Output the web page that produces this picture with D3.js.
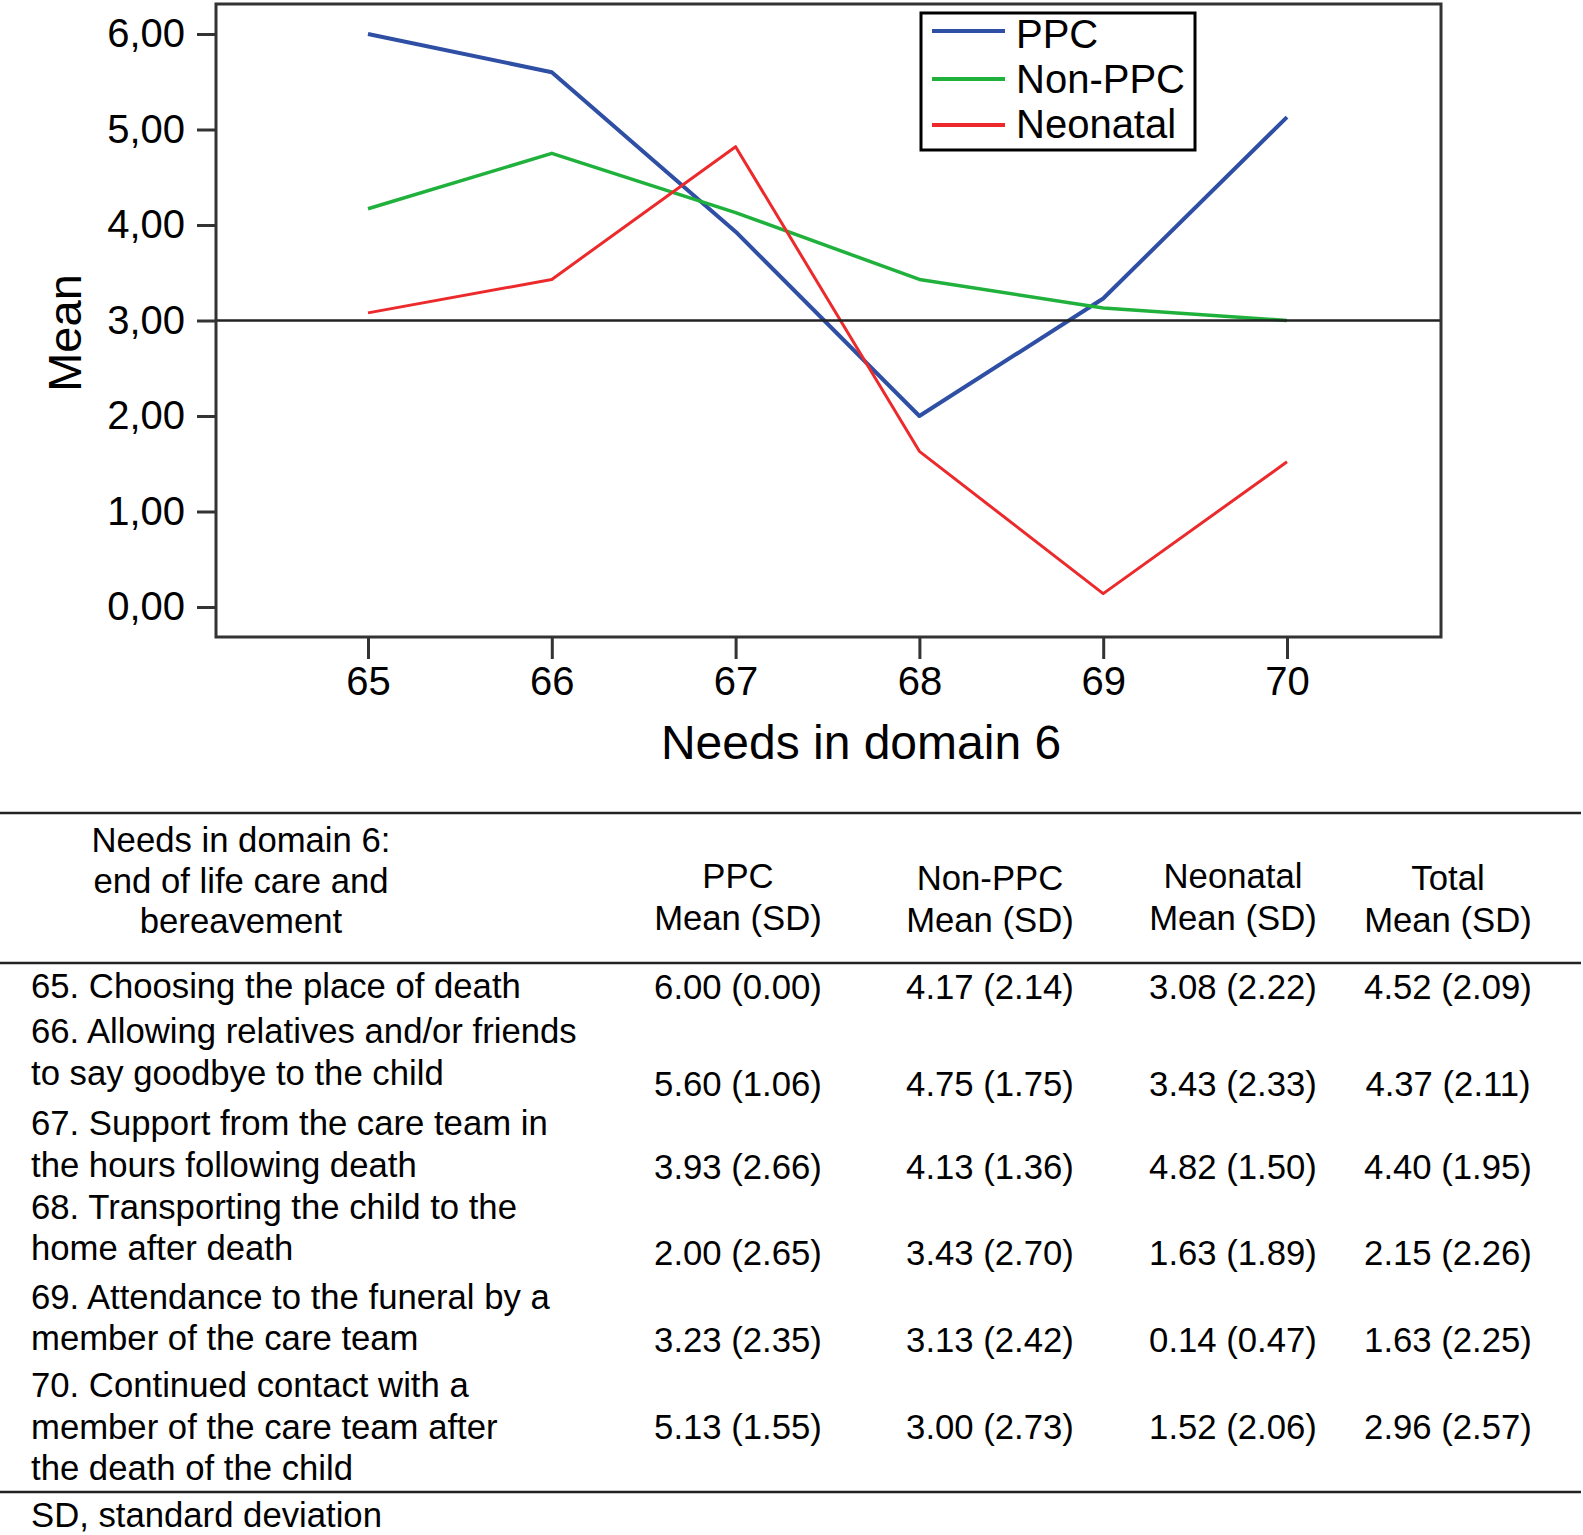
<!DOCTYPE html>
<html>
	<head>
		<title>Needs in domain 6</title>
		<meta charset="utf-8" />
		<style type="text/css">
			body {
				margin: 0;
				background: #fff;
			}
			svg text {
				font-family: "Liberation Sans", Arial, Helvetica, sans-serif;
				fill: #000;
			}
		</style>
	</head>
	<body>
		<svg width="1583" height="1535"></svg>

		<script type="text/javascript" src="https://cdn.jsdelivr.net/npm/d3@7/dist/d3.min.js"></script>
		<script type="text/javascript">
			/**
			 * data
			 * */
			var needs = [65, 66, 67, 68, 69, 70];
			var yTicks = [0, 1, 2, 3, 4, 5, 6];
			var groups = ["PPC", "Non-PPC", "Neonatal"];

			var ppcMean = [6.00, 5.60, 3.93, 2.00, 3.23, 5.13];
			var ppcSD = [0.00, 1.06, 2.66, 2.65, 2.35, 1.55];
			var nonPpcMean = [4.17, 4.75, 4.13, 3.43, 3.13, 3.00];
			var nonPpcSD = [2.14, 1.75, 1.36, 2.70, 2.42, 2.73];
			var neonatalMean = [3.08, 3.43, 4.82, 1.63, 0.14, 1.52];
			var neonatalSD = [2.22, 2.33, 1.50, 1.89, 0.47, 2.06];
			var totalMean = [4.52, 4.37, 4.40, 2.15, 1.63, 2.96];
			var totalSD = [2.09, 2.11, 1.95, 2.26, 2.25, 2.57];

			var referenceValue = 3;

			var needLabels = [
				["65. Choosing the place of death"],
				["66. Allowing relatives and/or friends", "to say goodbye to the child"],
				["67. Support from the care team in", "the hours following death"],
				["68. Transporting the child to the", "home after death"],
				["69. Attendance to the funeral by a", "member of the care team"],
				["70. Continued contact with a", "member of the care team after", "the death of the child"]
			];

			var headers = [
				["Needs in domain 6:", "end of life care and", "bereavement"],
				["PPC", "Mean (SD)"],
				["Non-PPC", "Mean (SD)"],
				["Neonatal", "Mean (SD)"],
				["Total", "Mean (SD)"]
			];

			/**
			 * layout
			 * */
			var frame = { left: 216, top: 4, right: 1441, bottom: 637 };
			var colors = ["#2f4fa5", "#1fb13c", "#ec2a2c"];
			var widths = [4, 3.5, 3];
			var tableFont = 34.7;
			var colX = [241, 738, 990, 1233, 1448];
			var headerBase = [[852, 893, 933], [888, 930], [890, 932], [888, 930], [890, 932]];
			var labelBase = [[998], [1043, 1085], [1135, 1177], [1219, 1260], [1309, 1350], [1397, 1439, 1480]];
			var valueBase = [999, 1096, 1179, 1265, 1352, 1439];
			var ruleY = [813, 963, 1492];

			var svg = d3.select("svg");

			var x = d3.scaleLinear().domain([65, 70]).range([368, 1287]);
			var y = d3.scaleLinear().domain([0, 6]).range([607, 34]);

			var comma = function(d) {
				return d3.format(".2f")(d).replace(".", ",");
			};

			// axes
			var yAxis = svg.append("g")
				.attr("transform", "translate(" + frame.left + ",0)")
				.call(d3.axisLeft(y).tickValues(yTicks).tickFormat(comma).tickSize(19).tickPadding(12));

			var xAxis = svg.append("g")
				.attr("transform", "translate(0," + frame.bottom + ")")
				.call(d3.axisBottom(x).tickValues(needs).tickFormat(d3.format("d")).tickSize(22).tickPadding(8));

			[yAxis, xAxis].forEach(function(a) {
				a.select(".domain").remove();
				a.selectAll(".tick line").attr("stroke", "#333").attr("stroke-width", 3);
				a.selectAll(".tick text").attr("font-size", 40).attr("fill", "#000")
					.style("font-family", "'Liberation Sans', Arial, sans-serif");
			});

			// lines
			var line = d3.line()
				.x(function(d, i) { return x(needs[i]); })
				.y(function(d) { return y(d); });

			var series = [ppcMean, nonPpcMean, neonatalMean];

			svg.append("g").selectAll("path")
				.data(series)
				.enter().append("path")
				.attr("d", line)
				.attr("fill", "none")
				.attr("stroke", function(d, i) { return colors[i]; })
				.attr("stroke-width", function(d, i) { return widths[i]; })
				.attr("stroke-linejoin", "round");

			// reference line at 3
			svg.append("line")
				.attr("x1", frame.left).attr("x2", frame.right)
				.attr("y1", y(referenceValue)).attr("y2", y(referenceValue))
				.attr("stroke", "#222")
				.attr("stroke-width", 2.5);

			// frame
			svg.append("rect")
				.attr("x", frame.left).attr("y", frame.top)
				.attr("width", frame.right - frame.left)
				.attr("height", frame.bottom - frame.top)
				.attr("fill", "none")
				.attr("stroke", "#333")
				.attr("stroke-width", 3);

			// legend
			var legend = svg.append("g");
			legend.append("rect")
				.attr("x", 921).attr("y", 13)
				.attr("width", 274).attr("height", 137)
				.attr("fill", "#fff")
				.attr("stroke", "#000")
				.attr("stroke-width", 3);

			var legendLineY = [31, 79, 125];
			var legendTextY = [48, 93, 138];
			var item = legend.selectAll(".item")
				.data(groups)
				.enter().append("g")
				.attr("class", "item");

			item.append("line")
				.attr("x1", 932).attr("x2", 1005)
				.attr("y1", function(d, i) { return legendLineY[i]; })
				.attr("y2", function(d, i) { return legendLineY[i]; })
				.attr("stroke", function(d, i) { return colors[i]; })
				.attr("stroke-width", 4);

			item.append("text")
				.attr("x", 1016)
				.attr("y", function(d, i) { return legendTextY[i]; })
				.attr("font-size", 40)
				.text(function(d) { return d; });

			// axis titles
			svg.append("text")
				.attr("transform", "translate(81,333) rotate(-90)")
				.attr("text-anchor", "middle")
				.attr("font-size", 47)
				.text("Mean");

			svg.append("text")
				.attr("x", 861).attr("y", 759)
				.attr("text-anchor", "middle")
				.attr("font-size", 48)
				.text("Needs in domain 6");

			/**
			 * table
			 * */
			var table = svg.append("g").attr("font-size", tableFont);

			table.selectAll(".rule")
				.data(ruleY)
				.enter().append("line")
				.attr("x1", 0).attr("x2", 1581)
				.attr("y1", function(d) { return d; })
				.attr("y2", function(d) { return d; })
				.attr("stroke", "#222")
				.attr("stroke-width", 2.5);

			headers.forEach(function(h, c) {
				h.forEach(function(t, k) {
					table.append("text")
						.attr("x", colX[c])
						.attr("y", headerBase[c][k])
						.attr("text-anchor", "middle")
						.text(t);
				});
			});

			needLabels.forEach(function(lines, r) {
				lines.forEach(function(t, k) {
					table.append("text")
						.attr("x", 31)
						.attr("y", labelBase[r][k])
						.text(t);
				});
			});

			var f = d3.format(".2f");
			var cols = [[ppcMean, ppcSD], [nonPpcMean, nonPpcSD], [neonatalMean, neonatalSD], [totalMean, totalSD]];
			cols.forEach(function(c, ci) {
				table.selectAll(".v" + ci)
					.data(c[0])
					.enter().append("text")
					.attr("x", colX[ci + 1])
					.attr("y", function(d, i) { return valueBase[i]; })
					.attr("text-anchor", "middle")
					.text(function(d, i) { return f(d) + " (" + f(c[1][i]) + ")"; });
			});

			table.append("text")
				.attr("x", 31)
				.attr("y", 1527)
				.text("SD, standard deviation");
		</script>
	</body>
</html>
